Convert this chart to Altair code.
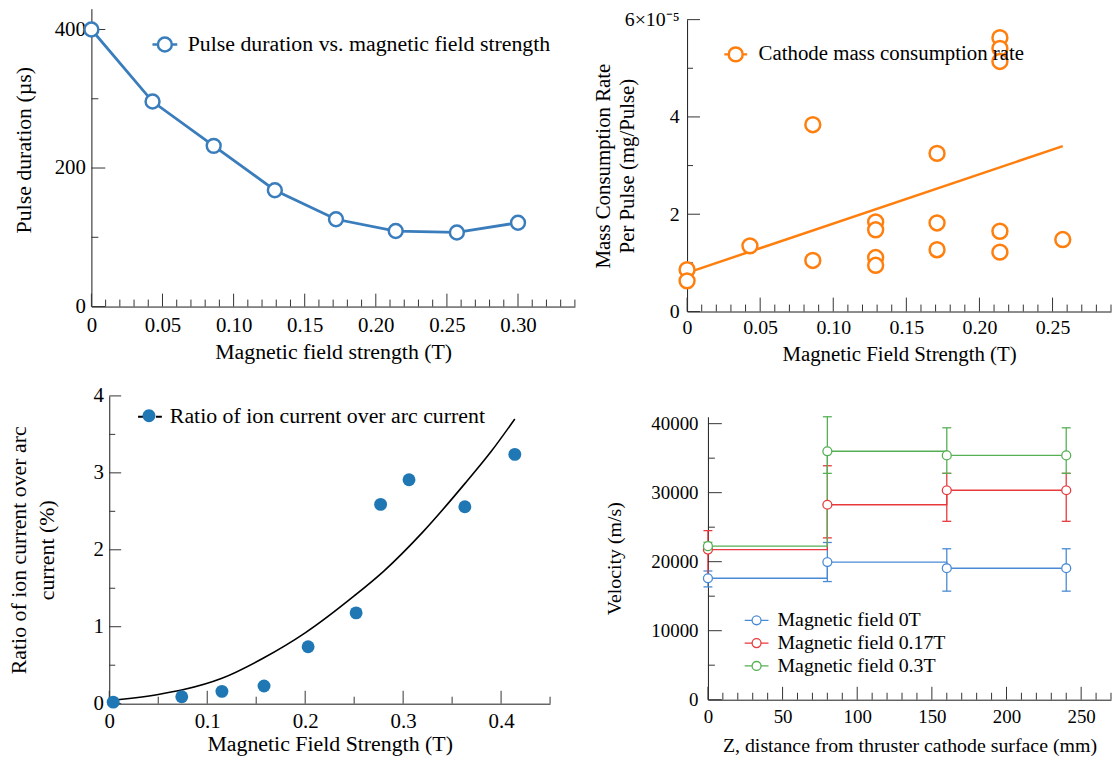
import altair as alt
import pandas as pd

FONT = "Liberation Serif"
INK = "#1a1a1a"
TICK = "#333333"

# ---------------- Panel A: pulse duration ----------------
a_field = [0, 0.043, 0.086, 0.129, 0.172, 0.214, 0.257, 0.300]
a_duration = [400, 296, 232, 168, 126, 109, 107, 121]
a_series = "Pulse duration vs. magnetic field strength"
a_color = "#3a7dbc"
a_x_major = [0, 0.05, 0.10, 0.15, 0.20, 0.25, 0.30]
a_x_minor = [0.01, 0.02, 0.03, 0.04, 0.06, 0.07, 0.08, 0.09, 0.11, 0.12, 0.13, 0.14,
             0.16, 0.17, 0.18, 0.19, 0.21, 0.22, 0.23, 0.24, 0.26, 0.27, 0.28, 0.29,
             0.31, 0.32, 0.33, 0.34]
a_y_major = [0, 200, 400]
a_y_minor = [100, 300]

# ---------------- Panel B: cathode mass consumption ----------------
b_field = [0, 0, 0.043, 0.086, 0.086, 0.129, 0.129, 0.129, 0.129,
           0.171, 0.171, 0.171, 0.214, 0.214, 0.214, 0.214, 0.214, 0.257]
b_rate = [0.86e-5, 0.63e-5, 1.35e-5, 3.84e-5, 1.05e-5, 1.84e-5, 1.68e-5, 1.11e-5, 0.95e-5,
          3.25e-5, 1.82e-5, 1.27e-5, 5.63e-5, 5.41e-5, 5.14e-5, 1.65e-5, 1.22e-5, 1.48e-5]
b_fit_field = [0, 0.257]
b_fit_rate = [0.795e-5, 3.40e-5]
b_series = "Cathode mass consumption rate"
b_color = "#ff7f0e"
b_x_major = [0, 0.05, 0.10, 0.15, 0.20, 0.25]
b_x_minor = [0.01, 0.02, 0.03, 0.04, 0.06, 0.07, 0.08, 0.09, 0.11, 0.12, 0.13, 0.14,
             0.16, 0.17, 0.18, 0.19, 0.21, 0.22, 0.23, 0.24, 0.26, 0.27, 0.28, 0.29]
b_y_major = [0, 2e-5, 4e-5, 6e-5]
b_y_minor = [1e-5, 3e-5, 5e-5]

# ---------------- Panel C: ion current ratio ----------------
c_field = [0.004, 0.074, 0.115, 0.158, 0.203, 0.252, 0.277, 0.306, 0.363, 0.414]
c_ratio = [0.02, 0.09, 0.16, 0.23, 0.74, 1.18, 2.59, 2.91, 2.56, 3.24]
c_curve_field = [0.0, 0.05, 0.075, 0.115, 0.157, 0.20, 0.25, 0.28, 0.32, 0.363, 0.39, 0.414]
c_curve_ratio = [0.04, 0.12, 0.18, 0.33, 0.59, 0.92, 1.40, 1.72, 2.23, 2.86, 3.28, 3.70]
c_series = "Ratio of ion current over arc current"
c_color = "#1f77b4"
c_x_major = [0, 0.1, 0.2, 0.3, 0.4]
c_x_minor = [0.05, 0.15, 0.25, 0.35, 0.45]
c_y_major = [0, 1, 2, 3, 4]
c_y_minor = [0.5, 1.5, 2.5, 3.5]

# ---------------- Panel D: velocity ----------------
d_z = [0, 80, 160, 240]
d_names = ["Magnetic field 0T", "Magnetic field 0.17T", "Magnetic field 0.3T"]
d_colors = ["#4a8ad4", "#e8393c", "#55b055"]
d_vel = [
    [17600, 19950, 19050, 19050],
    [21750, 28250, 30350, 30350],
    [22250, 36000, 35400, 35400],
]
d_lo = [
    [16350, 17120, 15730, 15730],
    [17400, 23450, 25850, 25850],
    [21700, 32800, 32800, 32800],
]
d_hi = [
    [18650, 22780, 21870, 21870],
    [24500, 33900, 32800, 32800],
    [22800, 41000, 39400, 39400],
]
d_x_major = [0, 50, 100, 150, 200, 250]
d_x_minor = [10, 20, 30, 40, 60, 70, 80, 90, 110, 120, 130, 140, 160, 170, 180, 190,
             210, 220, 230, 240, 260, 270]
d_y_major = [0, 10000, 20000, 30000, 40000]
d_y_minor = [5000, 15000, 25000, 35000]


def x_axis(title, values, lsize, tsize, lpad, title_y, label_expr=None, fmt=None):
    kw = dict(title=title, values=values, labelFontSize=lsize, titleFontSize=tsize,
              labelPadding=lpad, titleY=title_y, titleBaseline="middle")
    if label_expr:
        kw["labelExpr"] = label_expr
    if fmt:
        kw["format"] = fmt
    return alt.Axis(**kw)


def y_axis(title, values, lsize, tsize, lpad, title_x, line_height=None, label_expr=None,
           fmt=None, offset=None, title_y=None):
    kw = dict(title=title, values=values, labelFontSize=lsize, titleFontSize=tsize,
              labelPadding=lpad, titleX=title_x, titleBaseline="middle")
    if line_height:
        kw["titleLineHeight"] = line_height
    if label_expr:
        kw["labelExpr"] = label_expr
    if fmt:
        kw["format"] = fmt
    if offset is not None:
        kw["offset"] = offset
    if title_y is not None:
        kw["titleY"] = title_y
    return alt.Axis(**kw)


def xticks(field, vals, scale, h, length):
    return alt.Chart(pd.DataFrame({field: vals})).mark_rule(color=TICK, strokeWidth=1).encode(
        x=alt.X(f"{field}:Q", scale=scale), y=alt.value(h), y2=alt.value(h - length))


def yticks(field, vals, scale, length, x0=0):
    return alt.Chart(pd.DataFrame({field: vals})).mark_rule(color=TICK, strokeWidth=1).encode(
        y=alt.Y(f"{field}:Q", scale=scale), x=alt.value(x0), x2=alt.value(x0 + length))


def sym(r):
    return (f"M-1,0L-{r},0M{r},0L1,0M-{r},0A{r},{r},0,1,1,{r},0"
            f"A{r},{r},0,1,1,-{r},0Z")


def dot(r):
    return f"M-{r},0A{r},{r},0,1,1,{r},0A{r},{r},0,1,1,-{r},0Z"


# ================= Panel A =================
WA, HA = 487, 300
sxA = alt.Scale(domain=[0, 0.34], nice=False, zero=False)
syA = alt.Scale(domain=[0, 430], nice=False)
dfA = pd.DataFrame({"B": a_field, "D": a_duration, "s": [a_series] * len(a_field)})
fmt2 = "datum.value == 0 ? '0' : format(datum.value, '.2f')"
lineA = alt.Chart(dfA).mark_line(color=a_color, strokeWidth=2.8).encode(
    x=alt.X("B:Q", scale=sxA, axis=x_axis("Magnetic field strength (T)", a_x_major, 21, 22, 8, 45, fmt2)),
    y=alt.Y("D:Q", scale=syA, axis=y_axis("Pulse duration (µs)", a_y_major, 21, 22, 6, -68, fmt="d",
                                          title_y=142)),
)
ptsA = alt.Chart(dfA).mark_point(filled=False, fill="white", size=196, strokeWidth=2.5, opacity=1).encode(
    x=alt.X("B:Q", scale=sxA), y=alt.Y("D:Q", scale=syA),
    color=alt.Color("s:N", scale=alt.Scale(domain=[a_series], range=[a_color]),
                    legend=alt.Legend(orient="none", legendX=60, legendY=22, title=None,
                                      symbolType=sym(0.56), symbolSize=625, symbolStrokeWidth=2.5,
                                      symbolFillColor="white", labelFontSize=22, labelOffset=9,
                                      labelLimit=0)),
)
panelA = alt.layer(
    lineA,
    xticks("B", a_x_major, sxA, HA, 13), xticks("B", a_x_minor, sxA, HA, 7),
    yticks("D", a_y_major, syA, 14), yticks("D", a_y_minor, syA, 7),
    ptsA,
).properties(width=WA, height=HA)

# ================= Panel B =================
WB, HB = 427, 305
sxB = alt.Scale(domain=[0, 0.29], nice=False, zero=False)
syB = alt.Scale(domain=[0, 6e-5], range=[HB, 11], nice=False)
dfB = pd.DataFrame({"B": b_field, "M": b_rate, "s": [b_series] * len(b_field)})
dfBfit = pd.DataFrame({"B": b_fit_field, "M": b_fit_rate})
labB = ("datum.value == 0 ? '0' : (datum.value > 5.9e-5 ? '6×10⁻⁵' : "
        "format(round(datum.value * 1e5), 'd'))")
fitB = alt.Chart(dfBfit).mark_line(color=b_color, strokeWidth=2.5).encode(
    x=alt.X("B:Q", scale=sxB, axis=x_axis("Magnetic Field Strength (T)", b_x_major, 20, 21, 6, 43, fmt2)),
    y=alt.Y("M:Q", scale=syB, axis=y_axis(["Mass Consumption Rate", "Per Pulse (mg/Pulse)"], b_y_major,
                                          20, 21, 8, -84, line_height=24, label_expr=labB)),
)
ptsB = alt.Chart(dfB).mark_point(filled=False, fill="white", size=225, strokeWidth=2.5, opacity=1).encode(
    x=alt.X("B:Q", scale=sxB), y=alt.Y("M:Q", scale=syB),
    color=alt.Color("s:N", scale=alt.Scale(domain=[b_series], range=[b_color]),
                    legend=alt.Legend(orient="none", legendX=36, legendY=33, title=None,
                                      symbolType=sym(0.61), symbolSize=529, symbolStrokeWidth=2.5,
                                      symbolFillColor="white", labelFontSize=21, labelOffset=10,
                                      labelLimit=0)),
)
panelB = alt.layer(
    fitB,
    xticks("B", b_x_major, sxB, HB, 14), xticks("B", b_x_minor, sxB, HB, 7),
    yticks("M", b_y_major, syB, 13), yticks("M", b_y_minor, syB, 6),
    ptsB,
).properties(width=WB, height=HB)

# ================= Panel C =================
CX0 = 18
WC, HC = 487, 310
sxC = alt.Scale(domain=[0, 0.45], range=[CX0, CX0 + 444], nice=False, zero=False)
syC = alt.Scale(domain=[0, 4], nice=False)
dfC = pd.DataFrame({"B": c_field, "R": c_ratio, "s": [c_series] * len(c_field)})
dfCc = pd.DataFrame({"B": c_curve_field, "R": c_curve_ratio, "f": ["fit"] * len(c_curve_field)})
fmt1 = "datum.value == 0 ? '0' : format(datum.value, '.1f')"
curveC = alt.Chart(dfCc).mark_line(strokeWidth=1.6, interpolate="monotone").encode(
    x=alt.X("B:Q", scale=sxC, axis=x_axis("Magnetic Field Strength (T)", c_x_major, 21, 22, 7, 40, fmt1)),
    y=alt.Y("R:Q", scale=syC, axis=y_axis(["Ratio of ion current over arc", "current (%)"], c_y_major,
                                          21, 22, 6, -91, line_height=28, fmt="d", offset=-CX0)),
    stroke=alt.Stroke("f:N", scale=alt.Scale(domain=["fit"], range=["black"]),
                      legend=alt.Legend(orient="none", legendX=46, legendY=8, title=None,
                                        symbolType="M-1,0L-0.5,0M0.5,0L1,0", symbolSize=576,
                                        symbolStrokeWidth=1.8, labelExpr="''", labelFontSize=22)),
)
ptsC = alt.Chart(dfC).mark_point(filled=True, size=169, opacity=1).encode(
    x=alt.X("B:Q", scale=sxC), y=alt.Y("R:Q", scale=syC),
    color=alt.Color("s:N", scale=alt.Scale(domain=[c_series], range=[c_color]),
                    legend=alt.Legend(orient="none", legendX=46, legendY=8, title=None,
                                      symbolType=dot(0.54), symbolSize=576, symbolStrokeWidth=0,
                                      labelFontSize=22, labelOffset=9, labelLimit=0)),
)
panelC = alt.layer(
    curveC,
    xticks("B", c_x_major, sxC, HC, 13), xticks("B", c_x_minor, sxC, HC, 7),
    yticks("R", c_y_major, syC, 12, CX0), yticks("R", c_y_minor, syC, 6, CX0),
    ptsC,
).properties(width=WC, height=HC)

# ================= Panel D =================
DX0 = 21
WD, HD = 427, 306
sxD = alt.Scale(domain=[0, 270], range=[DX0, WD], nice=False, zero=False)
syD = alt.Scale(domain=[0, 41000], range=[HD, 21], nice=False)
layersD = []
for i, name in enumerate(d_names):
    df = pd.DataFrame({"Z": d_z, "V": d_vel[i], "lo": d_lo[i], "hi": d_hi[i]})
    if i == 0:
        xenc = alt.X("Z:Q", scale=sxD, axis=x_axis("Z, distance from thruster cathode surface (mm)",
                                                   d_x_major, 19, 20, 8, 46, fmt="d"))
        yenc = alt.Y("V:Q", scale=syD, axis=y_axis("Velocity (m/s)", d_y_major, 19, 20, 10, -94,
                                                   fmt="d", offset=-DX0))
    else:
        xenc = alt.X("Z:Q", scale=sxD)
        yenc = alt.Y("V:Q", scale=syD)
    layersD.append(alt.Chart(df).mark_line(color=d_colors[i], strokeWidth=1.3,
                                           interpolate="step-after").encode(x=xenc, y=yenc))
    layersD.append(alt.Chart(df).mark_rule(color=d_colors[i], strokeWidth=1.3).encode(
        x=alt.X("Z:Q", scale=sxD), y=alt.Y("lo:Q", scale=syD), y2="hi:Q"))
    layersD.append(alt.Chart(df).mark_tick(color=d_colors[i], orient="horizontal", size=9,
                                           thickness=1.3, opacity=1).encode(
        x=alt.X("Z:Q", scale=sxD), y=alt.Y("lo:Q", scale=syD)))
    layersD.append(alt.Chart(df).mark_tick(color=d_colors[i], orient="horizontal", size=9,
                                           thickness=1.3, opacity=1).encode(
        x=alt.X("Z:Q", scale=sxD), y=alt.Y("hi:Q", scale=syD)))

dfDp = pd.DataFrame({
    "Z": d_z * 3,
    "V": d_vel[0] + d_vel[1] + d_vel[2],
    "s": [d_names[0]] * 4 + [d_names[1]] * 4 + [d_names[2]] * 4,
})
ptsD = alt.Chart(dfDp).mark_point(filled=False, fill="white", size=81, strokeWidth=1.3, opacity=1).encode(
    x=alt.X("Z:Q", scale=sxD), y=alt.Y("V:Q", scale=syD),
    color=alt.Color("s:N", scale=alt.Scale(domain=d_names, range=d_colors),
                    legend=alt.Legend(orient="none", legendX=DX0 + 36, legendY=213, title=None,
                                      symbolType=sym(0.375), symbolSize=576, symbolStrokeWidth=1.3,
                                      symbolFillColor="white", labelFontSize=20, labelOffset=8,
                                      rowPadding=0, labelLimit=0)),
)
panelD = alt.layer(
    *layersD,
    xticks("Z", d_x_major, sxD, HD, 13), xticks("Z", d_x_minor, sxD, HD, 7),
    yticks("V", d_y_major, syD, 14, DX0), yticks("V", d_y_minor, syD, 7, DX0),
    ptsD,
).properties(width=WD, height=HD)

res = dict(x="independent", y="independent", color="independent", stroke="independent")
chart = alt.concat(
    panelA, panelB, panelC, panelD, columns=2,
    spacing={"row": 85, "column": 113}, bounds="flush",
).resolve_scale(**res).properties(
    padding={"left": 0, "top": -2, "right": 0, "bottom": 0}
).configure_view(stroke=None).configure_axis(
    labelFont=FONT, titleFont=FONT, labelColor="black", titleColor="black",
    titleFontWeight="normal", ticks=False, grid=False, domainColor=INK, domainWidth=1,
    labelFlush=False, labelOverlap=False,
).configure_legend(
    labelFont=FONT, labelColor="black", padding=0, rowPadding=0,
)

chart.save("out.html", embed_options={"renderer": "svg", "actions": False})
